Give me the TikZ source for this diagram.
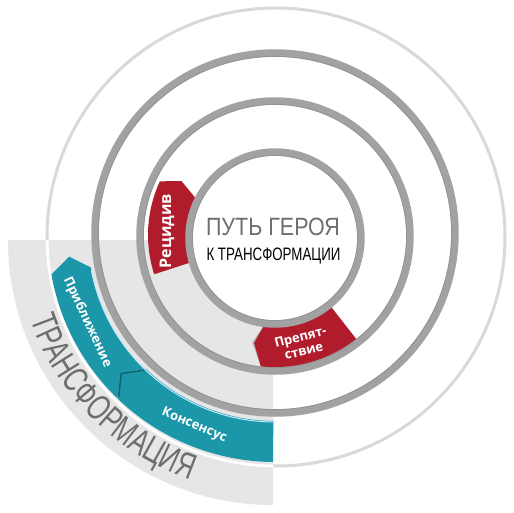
\documentclass[tikz,border=0pt]{standalone}
\usepackage{fontspec}
\setmainfont{Liberation Sans}
\newfontfamily\titlefont[FakeStretch=0.86]{Liberation Sans}
\newfontfamily\subfont[FakeStretch=0.74]{Liberation Sans}
\newfontfamily\bandfont[FakeStretch=0.7]{Liberation Sans}
\newfontfamily\tagfont{Open Sans}
\usetikzlibrary{decorations.text}
\definecolor{ringgrey}{HTML}{A2A2A2}
\definecolor{quadgrey}{HTML}{E6E6E6}
\definecolor{herored}{HTML}{B01C2C}
\definecolor{heroteal}{HTML}{1C97A9}
\definecolor{titlegrey}{HTML}{6E6E6E}

\begin{document}
\begin{tikzpicture}[x=1pt, y=1pt,
		ring/.style={draw=ringgrey, line width=7.5pt},
		ringedge/.style={draw=gray!85, line width=0.8pt},
		redband/.style={fill=herored},
		tealband/.style={fill=heroteal},
		tag/.style={text=white, font=\tagfont\bfseries\fontsize{13}{14}\selectfont, align=center, inner sep=0pt}]

		\useasboundingbox[fill=white] (-275,-277) rectangle (239,235);

		\fill[quadgrey] (-2,-5) -- (-267,-5) arc[start angle=180, end angle=270, radius=265] -- cycle;

		\draw[gray!30, line width=3pt] (1,-2) circle[radius=229];
		\begin{scope}
			\clip (-2,-5) rectangle (-275,-277);
			\draw[white, line width=3pt] (1,-2) circle[radius=229];
		\end{scope}

		\fill[white] (0,-3) circle[radius=86];

		\fill[tealband] (269.5:186) arc[start angle=269.5, end angle=226, radius=186] -- (222:207) -- (226:227) arc[start angle=226, end angle=269.5, radius=227] -- cycle;
		\fill[tealband] (226:186) -- (222:207) -- (226:227) arc[start angle=226, end angle=190, radius=227] -- (186:207) -- (190:187) arc[start angle=190, end angle=226, radius=187] -- cycle;
		\draw[heroteal!65!black, line width=1.5pt] (226:188) -- (222:207) -- (226:225);
		\draw[cyan!25, line width=1pt] (269.5:187) arc[start angle=269.5, end angle=191, radius=187];

		\fill[gray!55] (264:88) -- (258:110) -- (264:133) -- (266:133) -- (266:88) -- cycle;
		\fill[redband] (198:88) arc[start angle=198, end angle=155, radius=88] -- (150:108) -- (155:127) arc[start angle=155, end angle=198, radius=127] -- cycle;
		\fill[redband] (308:88) arc[start angle=308, end angle=264, radius=88] -- (259:110) -- (264:133) arc[start angle=264, end angle=308, radius=133] -- cycle;

		\foreach \cy/\r in {-3/86, -1/135, 2/180} {
			\draw[ring] (0,\cy) circle[radius=\r];
			\draw[ringedge] (0,\cy) circle[radius=\r-3.4];
		}

		\node[tag, rotate=90, font=\tagfont\bfseries\fontsize{16}{16}\selectfont] (relapse) at (178:108) {Рецидив};
		\node[tag, rotate=14] (obstacle) at (284:112) {Препят-\\ствие};
		\node[tag, rotate=-65] (approach) at (205:207) {Приближение};
		\node[tag, rotate=-23] (consensus) at (247:207) {Консенсус};

		\node[text=titlegrey, font=\titlefont\fontsize{25}{25}\selectfont, inner sep=0pt, anchor=base] (title) at (-2,0) {ПУТЬ ГЕРОЯ};
		\node[font=\subfont\fontsize{18}{18}\selectfont, inner sep=0pt, anchor=base] (subtitle) at (-1.5,-25) {К ТРАНСФОРМАЦИИ};

		\path[decorate, decoration={text along path, text color=titlegrey, text align=center,
			text={|\bandfont\fontsize{36}{36}\selectfont|ТРАНСФОРМАЦИЯ}}]
			(195:259) arc[start angle=195, end angle=255, radius=259];
\end{tikzpicture}
\end{document}
